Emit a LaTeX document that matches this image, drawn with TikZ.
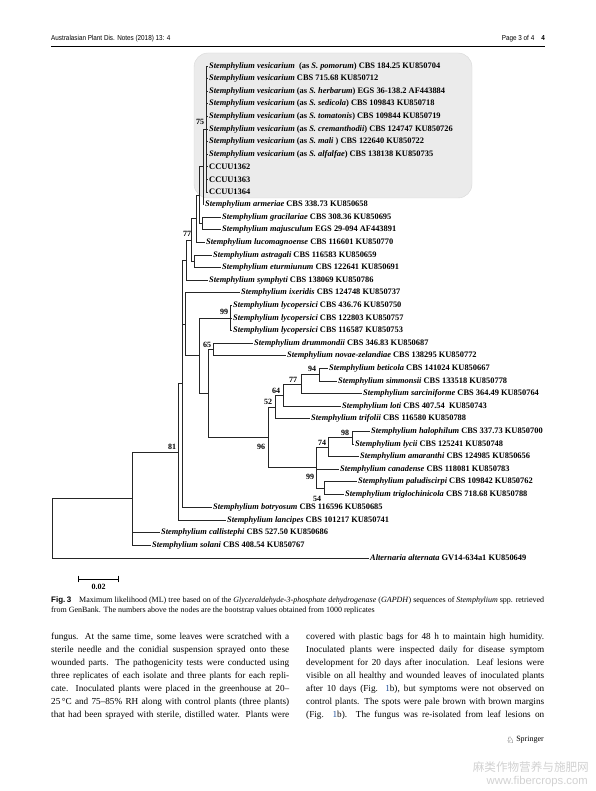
\documentclass[tikz,border=0pt]{standalone}
\usepackage{fontspec}
\usepackage{xcolor}
\usepackage{tikz}
\usetikzlibrary{positioning,calc}
\setmainfont{Liberation Serif}
\setsansfont{Liberation Sans}
\newfontfamily\headfont[FakeStretch=0.88]{Liberation Sans}
\newfontfamily\cjkfont{Noto Sans CJK SC}
\newfontfamily\symbfont{DejaVu Sans}
\definecolor{LinkBlue}{HTML}{1F4E9A}
\definecolor{BoxGray}{HTML}{EBEBEB}
\definecolor{MarkGray}{HTML}{D2D2D2}
\newcommand{\Stem}[1]{\textit{Stemphylium #1}}
\newcommand{\treefont}{\fontsize{8.4}{10}\selectfont\bfseries}
\newcommand{\bootfont}{\fontsize{8}{9}\selectfont\bfseries}
\newcommand{\bodyfont}{\fontsize{9.2}{11}\selectfont}
\newcommand{\capfont}{\fontsize{8}{9}\selectfont}

\begin{document}
\begin{tikzpicture}[x=1pt, y=-1pt, every node/.style={inner sep=0pt},
 leaf/.style={anchor=west,inner sep=1pt,font=\treefont},
 boot/.style={font=\bootfont},
 branch/.style={draw=black!85,line width=0.85pt},
 bodyline/.style={anchor=west,font=\bodyfont},
 capline/.style={anchor=west,font=\capfont}]
\useasboundingbox (0,0) rectangle (595,791);
\fill[white] (0,0) rectangle (595,791);

% running head
\node[anchor=west,font=\headfont\fontsize{7.2}{8}\selectfont] (journal) at (51,39) {Australasian Plant Dis. Notes (2018) 13: 4};
\node[anchor=east,font=\headfont\fontsize{7.2}{8}\selectfont] (pageno) at (545,39) {Page 3 of 4\hspace{7pt}\textbf{4}};
\coordinate (headl) at (51,46.5); \coordinate (headr) at (545,46.5);
\draw[line width=1pt] (headl) -- (headr);

% shaded clade
\draw[draw=black!15,fill=BoxGray,rounded corners=14pt] (194,53) rectangle (472,198);

% leaves
\node[leaf] (ves1) at (208,66.0) {\Stem{vesicarium}\ \ (as \textit{S. pomorum}) CBS 184.25 KU850704};
\node[leaf] (ves2) at (208,78.6) {\Stem{vesicarium} CBS 715.68 KU850712};
\node[leaf] (ves3) at (208,91.2) {\Stem{vesicarium} (as \textit{S. herbarum}) EGS 36-138.2 AF443884};
\node[leaf] (ves4) at (208,103.8) {\Stem{vesicarium} (as \textit{S. sedicola}) CBS 109843 KU850718};
\node[leaf] (ves5) at (208,116.4) {\Stem{vesicarium} (as \textit{S. tomatonis}) CBS 109844 KU850719};
\node[leaf] (ves6) at (208,129.0) {\Stem{vesicarium} (as \textit{S. cremanthodii}) CBS 124747 KU850726};
\node[leaf] (ves7) at (208,141.6) {\Stem{vesicarium} (as \textit{S. mali} ) CBS 122640 KU850722};
\node[leaf] (ves8) at (208,154.2) {\Stem{vesicarium} (as \textit{S. alfalfae}) CBS 138138 KU850735};
\node[leaf] (cc62) at (208,166.8) {CCUU1362};
\node[leaf] (cc63) at (208,179.4) {CCUU1363};
\node[leaf] (cc64) at (208,192.0) {CCUU1364};
\node[leaf] (armer) at (204,204.6) {\Stem{armeriae} CBS 338.73 KU850658};
\node[leaf] (graci) at (221,217.2) {\Stem{gracilariae} CBS 308.36 KU850695};
\node[leaf] (majus) at (221,229.8) {\Stem{majusculum} EGS 29-094 AF443891};
\node[leaf] (lucom) at (205,242.4) {\Stem{lucomagnoense} CBS 116601 KU850770};
\node[leaf] (astra) at (212,255.0) {\Stem{astragali} CBS 116583 KU850659};
\node[leaf] (eturm) at (221,267.6) {\Stem{eturmiunum} CBS 122641 KU850691};
\node[leaf] (symph) at (208,280.2) {\Stem{symphyti} CBS 138069 KU850786};
\node[leaf] (ixeri) at (240,292.8) {\Stem{ixeridis} CBS 124748 KU850737};
\node[leaf] (lyco1) at (232,305.4) {\Stem{lycopersici} CBS 436.76 KU850750};
\node[leaf] (lyco2) at (232,318.0) {\Stem{lycopersici} CBS 122803 KU850757};
\node[leaf] (lyco3) at (232,330.6) {\Stem{lycopersici} CBS 116587 KU850753};
\node[leaf] (drumm) at (253,343.2) {\Stem{drummondii} CBS 346.83 KU850687};
\node[leaf] (novae) at (286,355.8) {\Stem{novae-zelandiae} CBS 138295 KU850772};
\node[leaf] (betic) at (328,368.4) {\Stem{beticola} CBS 141024 KU850667};
\node[leaf] (simmo) at (337,381.0) {\Stem{simmonsii} CBS 133518 KU850778};
\node[leaf] (sarci) at (362,393.6) {\Stem{sarciniforme} CBS 364.49 KU850764};
\node[leaf] (loti) at (341,406.2) {\Stem{loti} CBS 407.54\ \ KU850743};
\node[leaf] (trifo) at (310,418.8) {\Stem{trifolii} CBS 116580 KU850788};
\node[leaf] (halop) at (370,431.4) {\Stem{halophilum} CBS 337.73 KU850700};
\node[leaf] (lycii) at (354,444.0) {\Stem{lycii} CBS 125241 KU850748};
\node[leaf] (amara) at (359,456.6) {\Stem{amaranthi} CBS 124985 KU850656};
\node[leaf] (canad) at (339,469.2) {\Stem{canadense} CBS 118081 KU850783};
\node[leaf] (palud) at (357,481.8) {\Stem{paludiscirpi} CBS 109842 KU850762};
\node[leaf] (trigl) at (344,494.4) {\Stem{triglochinicola} CBS 718.68 KU850788};
\node[leaf] (botry) at (212,507.6) {\Stem{botryosum} CBS 116596 KU850685};
\node[leaf] (lanci) at (226,520.2) {\Stem{lancipes} CBS 101217 KU850741};
\node[leaf] (calli) at (160,532.8) {\Stem{callistephi} CBS 527.50 KU850686};
\node[leaf] (solan) at (151,545.4) {\Stem{solani} CBS 408.54 KU850767};
\node[leaf] (alter) at (369,558.0) {\textit{Alternaria alternata} GV14-634a1 KU850649};

% inner nodes
\coordinate (ves) at (206,129.0);
\coordinate (n75) at (203,166.8);
\coordinate (grac) at (202,223.5);
\coordinate (armr) at (199,195.2);
\coordinate (luco) at (196,218.8);
\coordinate (astr) at (194,261.3);
\coordinate (upper) at (191,240.1);
\coordinate (n77a) at (186,260.1);
\coordinate (lyco) at (230,318.0);
\coordinate (n65) at (213,349.5);
\coordinate (n94) at (319,374.7);
\coordinate (n77b) at (301,384.2);
\coordinate (n64) at (283,395.2);
\coordinate (n52) at (275,407.0);
\coordinate (n98) at (352,437.7);
\coordinate (n74) at (328,447.2);
\coordinate (n54) at (324,488.1);
\coordinate (n99b) at (316,467.6);
\coordinate (n96) at (268,437.3);
\coordinate (mid) at (208,393.4);
\coordinate (lower) at (199,355.7);
\coordinate (ixer) at (185,324.3);
\coordinate (core) at (182,383.9);
\coordinate (n81) at (178,452.0);
\coordinate (ingroup) at (132,498.7);
\coordinate (root) at (52,528.4);

% branches
\draw[branch] (ves) |- (ves1); \draw[branch] (ves) |- (ves2); \draw[branch] (ves) |- (ves3);
\draw[branch] (ves) |- (ves4); \draw[branch] (ves) |- (ves5); \draw[branch] (ves) |- (ves6);
\draw[branch] (ves) |- (ves7); \draw[branch] (ves) |- (ves8); \draw[branch] (ves) |- (cc62);
\draw[branch] (ves) |- (cc63); \draw[branch] (ves) |- (cc64);
\draw[branch] (n75) |- (ves); \draw[branch] (n75) |- (armer);
\draw[branch] (grac) |- (graci); \draw[branch] (grac) |- (majus);
\draw[branch] (armr) |- (n75); \draw[branch] (armr) |- (grac);
\draw[branch] (luco) |- (armr); \draw[branch] (luco) |- (lucom);
\draw[branch] (astr) |- (astra); \draw[branch] (astr) |- (eturm);
\draw[branch] (upper) |- (luco); \draw[branch] (upper) |- (astr);
\draw[branch] (n77a) |- (upper); \draw[branch] (n77a) |- (symph);
\draw[branch] (lyco) |- (lyco1); \draw[branch] (lyco) |- (lyco2); \draw[branch] (lyco) |- (lyco3);
\draw[branch] (n65) |- (drumm); \draw[branch] (n65) |- (novae);
\draw[branch] (n94) |- (betic); \draw[branch] (n94) |- (simmo);
\draw[branch] (n77b) |- (n94); \draw[branch] (n77b) |- (sarci);
\draw[branch] (n64) |- (n77b); \draw[branch] (n64) |- (loti);
\draw[branch] (n52) |- (n64); \draw[branch] (n52) |- (trifo);
\draw[branch] (n98) |- (halop); \draw[branch] (n98) |- (lycii);
\draw[branch] (n74) |- (n98); \draw[branch] (n74) |- (amara);
\draw[branch] (n54) |- (palud); \draw[branch] (n54) |- (trigl);
\draw[branch] (n99b) |- (n74); \draw[branch] (n99b) |- (canad); \draw[branch] (n99b) |- (n54);
\draw[branch] (n96) |- (n52); \draw[branch] (n96) |- (n99b);
\draw[branch] (mid) |- (n65); \draw[branch] (mid) |- (n96);
\draw[branch] (lower) |- (lyco); \draw[branch] (lower) |- (mid);
\draw[branch] (ixer) |- (ixeri); \draw[branch] (ixer) |- (lower);
\draw[branch] (core) |- (n77a); \draw[branch] (core) |- (ixer); \draw[branch] (core) |- (botry);
\draw[branch] (n81) |- (core); \draw[branch] (n81) |- (lanci);
\draw[branch] (ingroup) |- (n81); \draw[branch] (ingroup) |- (calli); \draw[branch] (ingroup) |- (solan);
\draw[branch] (root) |- (ingroup); \draw[branch] (root) |- (alter);

% bootstrap values
\node[boot] (b75) at (200,122) {75};
\node[boot] (b77a) at (187,234) {77};
\node[boot] (b99a) at (224,312) {99};
\node[boot] (b65) at (207,345) {65};
\node[boot] (b94) at (312,369) {94};
\node[boot] (b77b) at (293,380) {77};
\node[boot] (b64) at (276,391) {64};
\node[boot] (b52) at (268,402) {52};
\node[boot] (b96) at (261,447) {96};
\node[boot] (b98) at (345,433) {98};
\node[boot] (b74) at (322,443) {74};
\node[boot] (b99b) at (310,477) {99};
\node[boot] (b54) at (317,499) {54};
\node[boot] (b81) at (172,447) {81};

% scale bar
\coordinate (sbl) at (78,579); \coordinate (sbr) at (119,579);
\draw[|-|,line width=0.7pt] (sbl) -- (sbr);
\node[font=\bootfont,below=5pt of $(sbl)!0.5!(sbr)$] (sblab) {0.02};

% caption
\node[capline] (cap1) at (51,600) {\makebox[493pt][s]{{\sffamily\bfseries Fig.\,3}\quad Maximum likelihood (ML) tree based on of the \textit{Glyceraldehyde-3-phosphate dehydrogenase} (\textit{GAPDH}) sequences of \textit{Stemphylium} spp. retrieved}};
\node[capline] (cap2) at (51,611) {from GenBank. The numbers above the nodes are the bootstrap values obtained from 1000 replicates};

% body text, left column
\node[bodyline] (la) at (51,637.5) {\makebox[238pt][s]{fungus. At the same time, some leaves were scratched with a}};
\node[bodyline] (lb) at (51,650.5) {\makebox[238pt][s]{sterile needle and the conidial suspension sprayed onto these}};
\node[bodyline] (lc) at (51,663.5) {\makebox[238pt][s]{wounded parts. The pathogenicity tests were conducted using}};
\node[bodyline] (ld) at (51,676.5) {\makebox[238pt][s]{three replicates of each isolate and three plants for each repli-}};
\node[bodyline] (le) at (51,689.5) {\makebox[238pt][s]{cate. Inoculated plants were placed in the greenhouse at 20–}};
\node[bodyline] (lf) at (51,702.5) {\makebox[238pt][s]{25\,°C and 75–85\% RH along with control plants (three plants)}};
\node[bodyline] (lg) at (51,715.5) {\makebox[238pt][s]{that had been sprayed with sterile, distilled water. Plants were}};
% body text, right column
\node[bodyline] (ra) at (306,637.5) {\makebox[238pt][s]{covered with plastic bags for 48 h to maintain high humidity.}};
\node[bodyline] (rb) at (306,650.5) {\makebox[238pt][s]{Inoculated plants were inspected daily for disease symptom}};
\node[bodyline] (rc) at (306,663.5) {\makebox[238pt][s]{development for 20 days after inoculation. Leaf lesions were}};
\node[bodyline] (rd) at (306,676.5) {\makebox[238pt][s]{visible on all healthy and wounded leaves of inoculated plants}};
\node[bodyline] (re) at (306,689.5) {\makebox[238pt][s]{after 10 days (Fig. \textcolor{LinkBlue}{1}b), but symptoms were not observed on}};
\node[bodyline] (rf) at (306,702.5) {\makebox[238pt][s]{control plants. The spots were pale brown with brown margins}};
\node[bodyline] (rg) at (306,715.5) {\makebox[238pt][s]{(Fig. \textcolor{LinkBlue}{1}b). The fungus was re-isolated from leaf lesions on}};

% publisher mark and watermark
\node[anchor=east,font=\fontsize{8}{9}\selectfont] (spr) at (544,740) {Springer};
\node[left=1.5pt of spr,font=\symbfont\fontsize{9}{9}\selectfont] (sprlogo) {♘};
\node[anchor=east,text=MarkGray,font=\cjkfont\fontsize{11.6}{12}\selectfont] (wmcn) at (589,767) {麻类作物营养与施肥网};
\node[anchor=east,text=MarkGray,font=\sffamily\fontsize{11.3}{12}\selectfont] (wmurl) at (588,781.5) {www.fibercrops.com};
\end{tikzpicture}
\end{document}
